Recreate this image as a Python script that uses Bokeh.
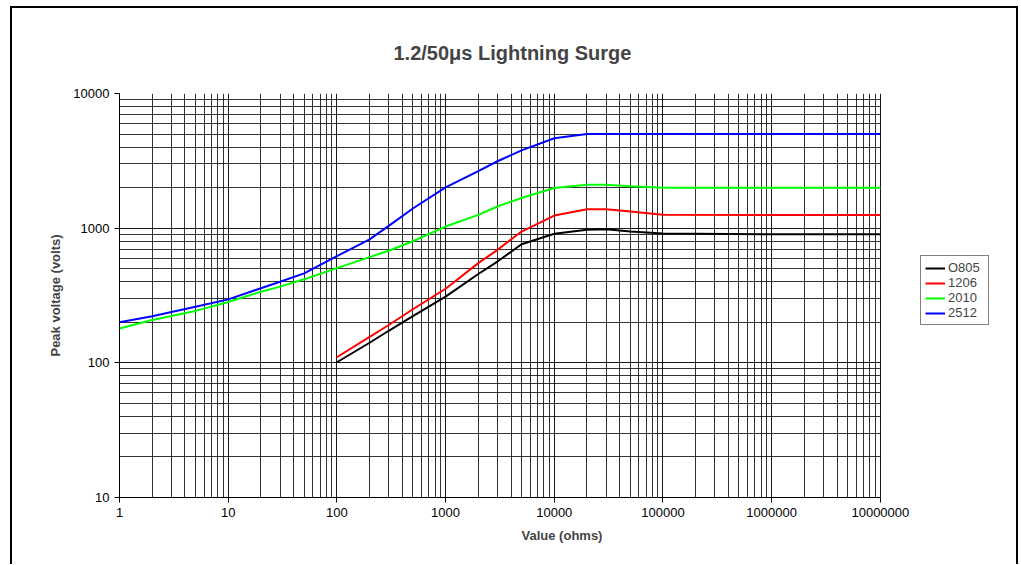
from bokeh.plotting import figure
from bokeh.models import FixedTicker, NumeralTickFormatter, Legend, LegendItem
from bokeh.embed import file_html
from bokeh.resources import INLINE

# ---- data ----
x_all = [1, 2, 5, 10, 20, 30, 50, 100, 200, 300, 500, 1000, 2000, 3000, 5000,
         10000, 20000, 30000, 50000, 100000, 1000000, 10000000]
v2512 = [200, 222, 261, 296, 358, 400, 462, 620, 825, 1040, 1400, 2010, 2650, 3140, 3780,
         4650, 5000, 5000, 5000, 5000, 5000, 5000]
v2010 = [180, 208, 243, 283, 337, 368, 417, 505, 610, 680, 800, 1028, 1256, 1449, 1676,
         1990, 2100, 2100, 2050, 2000, 2000, 2000]
x_sub = [100, 200, 300, 500, 1000, 2000, 3000, 5000, 10000, 20000, 30000, 50000,
         100000, 1000000, 10000000]
v1206 = [110, 156, 191, 250, 355, 550, 690, 944, 1240, 1380, 1380, 1330, 1260, 1250, 1250]
v0805 = [101, 141, 173, 222, 310, 457, 565, 760, 910, 975, 980, 945, 912, 900, 900]

x_major = [1, 10, 100, 1000, 10000, 100000, 1000000, 10000000]
y_major = [10, 100, 1000, 10000]
x_minor = [m * d for d in x_major[:-1] for m in range(2, 10)]
y_minor = [m * d for d in y_major[:-1] for m in range(2, 10)]
X_LO, X_HI = 1, 10000000

FONT = "Liberation Sans"

W, H = 1008, 558
MB_L, MB_T, MB_R = 107, 85, 16
MB_B = (H - 2) - MB_T - 403 + 1
PX_PER_DEC = 760 / 7.0
FRAME_W = (W - 4) - MB_L - MB_R + 3
x_end = 10 ** (FRAME_W / PX_PER_DEC)   # frame extends right so the legend fits inside it

p = figure(width=W, height=H, x_axis_type="log", y_axis_type="log",
           x_range=(X_LO, x_end), y_range=(10, 10000),
           output_backend="svg", toolbar_location=None,
           min_border_left=MB_L, min_border_right=MB_R,
           min_border_top=MB_T, min_border_bottom=MB_B)
p.margin = (6, 0, 0, 10)
p.styles = {"border-top": "2px solid black", "border-left": "2px solid black",
            "border-right": "2px solid black", "box-sizing": "border-box"}

p.title.text = "1.2/50\u03bcs Lightning Surge"
p.title.align = "left"
p.title.offset = 274
p.title.standoff = 60
p.title.text_font = FONT
p.title.text_font_size = "20px"
p.title.text_font_style = "bold"

for ax, tk, mn in ((p.xaxis[0], x_major, x_minor), (p.yaxis[0], y_major, y_minor)):
    ax.ticker = FixedTicker(ticks=tk, minor_ticks=mn)
    ax.formatter = NumeralTickFormatter(format="0")
    ax.major_label_text_font = FONT
    ax.major_label_text_font_size = "13px"
    ax.major_label_text_color = "black"
    ax.axis_label_text_font = FONT
    ax.axis_label_text_font_size = "13px"
    ax.axis_label_text_font_style = "bold"
    ax.axis_line_color = "black"
    ax.major_tick_line_color = "black"
    ax.major_tick_out = 5
    ax.major_tick_in = 0
    ax.minor_tick_out = 0
    ax.minor_tick_in = 0
    ax.major_label_standoff = 5

p.xaxis.bounds = (X_LO, X_HI)
p.xaxis.axis_label = "Value (ohms)"
p.yaxis.axis_label = "Peak voltage (volts)"
p.xaxis.axis_label_standoff = 8
p.yaxis.axis_label_standoff = 7

for g in (p.xgrid[0], p.ygrid[0]):
    g.grid_line_color = "black"
    g.grid_line_width = 1
    g.grid_line_alpha = 0.9
    g.minor_grid_line_color = "black"
    g.minor_grid_line_width = 1
    g.minor_grid_line_alpha = 0.8
p.ygrid[0].cross_bounds = (X_LO, X_HI)

p.outline_line_color = None

r0805 = p.line(x_sub, v0805, line_color="black", line_width=2)
r1206 = p.line(x_sub, v1206, line_color="#FF0000", line_width=2)
r2010 = p.line(x_all, v2010, line_color="#00FF00", line_width=2)
r2512 = p.line(x_all, v2512, line_color="#0000FF", line_width=2)

legend = Legend(items=[LegendItem(label="O805", renderers=[r0805]),
                       LegendItem(label="1206", renderers=[r1206]),
                       LegendItem(label="2010", renderers=[r2010]),
                       LegendItem(label="2512", renderers=[r2512])],
                location=(801, 172))
legend.border_line_color = "black"
legend.border_line_width = 1
legend.background_fill_color = "white"
legend.background_fill_alpha = 1
legend.padding = 4
legend.spacing = 0
legend.margin = 0
legend.glyph_width = 20
legend.glyph_height = 14
legend.label_height = 14
legend.label_width = 36
legend.label_standoff = 3
legend.label_text_font = FONT
legend.label_text_font_size = "13px"
p.add_layout(legend, "center")

open("out.html", "w").write(file_html(p, INLINE))
